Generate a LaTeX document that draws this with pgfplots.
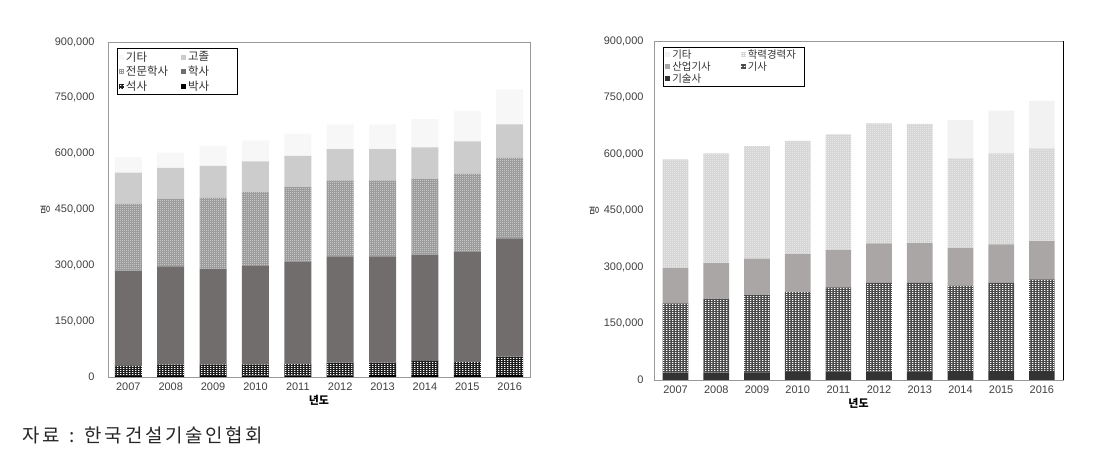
\documentclass[border=0pt]{standalone}
\usepackage{pgfplots}
\pgfplotsset{compat=1.18}
\usepackage{pgfplotstable}
\usetikzlibrary{patterns}
\usepackage{fontspec}
\setmainfont{Liberation Sans}
\newfontfamily\kr{Noto Sans CJK KR}
\newfontfamily\krs{Noto Sans CJK KR}[LetterSpace=14]

\pgfdeclarepatternformonly{mydots}{\pgfpointorigin}{\pgfpoint{2.2bp}{2.2bp}}{\pgfpoint{2.2bp}{2.2bp}}{%
  \pgfpathrectangle{\pgfpointorigin}{\pgfpoint{1bp}{1bp}}\pgfusepath{fill}}
\pgfdeclarepatternformonly{mydash}{\pgfpointorigin}{\pgfpoint{3bp}{2.4bp}}{\pgfpoint{3bp}{2.4bp}}{%
  \pgfpathrectangle{\pgfpointorigin}{\pgfpoint{1.7bp}{1bp}}\pgfusepath{fill}}

\definecolor{gita}{HTML}{F7F7F7}
\definecolor{gojol}{HTML}{CCCCCC}
\definecolor{jeonmun}{HTML}{9C9C9C}
\definecolor{haksa}{HTML}{716D6D}
\definecolor{seoksa}{HTML}{1E1E1E}
\definecolor{baksa}{HTML}{000000}
\definecolor{rgita}{HTML}{F2F2F2}
\definecolor{rhak}{HTML}{D6D6D6}
\definecolor{rsan}{HTML}{ABA6A6}
\definecolor{rgisa}{HTML}{4A4A4A}
\definecolor{rgisul}{HTML}{333333}

% left: segments (bottom to top)
\pgfplotstableread{
x baksa seoksa haksa jeonmun gojol gita
0 2500 27100 256000 180400 83000 42000
1 3000 31000 263000 182000 83000 41000
2 3000 31000 256000 192000 85000 53600
3 3500 30500 266000 197000 82000 57000
4 4000 32000 274800 199200 84000 60000
5 4500 34000 285500 204000 84000 67000
6 4800 33700 285500 204000 84000 67000
7 5200 37800 285700 204300 84000 75500
8 5500 35500 296700 208300 87000 82000
9 6000 49000 317700 216300 90000 94000
}\lefttable

% right: segments (bottom to top)
\pgfplotstableread{
x gisul gisa sanup hak gita
0 19500 184100 93400 289000 0
1 19500 196500 94000 292000 0
2 20000 206500 95500 299000 0
3 21000 212600 100900 300500 0
4 22000 224000 99000 307000 0
5 23000 235000 105000 318000 0
6 23000 235000 105700 316300 0
7 23500 226100 100400 238600 101400
8 23500 234500 102000 242000 113000
9 24000 243000 102000 246000 126000
}\righttable

\pgfplotsset{
  common/.style={
    scale only axis,
    anchor=south west,
    ybar stacked,
    ymin=0, ymax=900000,
    xtick={0,1,2,3,4,5,6,7,8,9},
    xticklabels={2007,2008,2009,2010,2011,2012,2013,2014,2015,2016},
    ytick={0,150000,300000,450000,600000,750000,900000},
    scaled y ticks=false,
    yticklabel style={/pgf/number format/fixed, /pgf/number format/1000 sep={,}},
    /pgf/number format/assume math mode=true,
    major tick length=0pt,
    axis line style={draw=black!40},
    tick label style={font=\fontsize{11}{12}\selectfont, text=black!75},
    xticklabel style={yshift=-2bp},
    ylabel={\kr 명},
    ylabel style={font=\kr\fontsize{10.5}{11}\selectfont, text=black!80, yshift=-2bp},
    xlabel={\kr\bfseries 년도},
    xlabel style={font=\kr\fontsize{11}{12}\selectfont\bfseries, yshift=2bp},
    legend columns=2,
    reverse legend,
    legend cell align=left,
    legend image code/.code={\path[##1, draw=none] (0bp,-2.5bp) rectangle (5bp,2.5bp);},
    clip=false,
  }
}

\begin{document}
\begin{tikzpicture}
\path[use as bounding box] (0,0) rectangle (1094bp,451bp);

\begin{axis}[common,
  at={(108bp,74bp)}, width=422bp, height=335bp,
  bar width=27bp, xmin=-0.48, xmax=9.48,
  yticklabel style={xshift=-10bp},
  legend style={at={(axis description cs:0.0206,0.981)}, anchor=north west,
    draw=black, line width=0.6bp, fill=white,
    font=\kr\fontsize{11.5}{12}\selectfont, text=black!80,
    inner xsep=2bp, inner ysep=1bp, row sep=-0.5bp,
    /tikz/every even column/.append style={column sep=11bp}},
]
\addplot[fill=baksa, draw=none] table[x=x, y=baksa] {\lefttable};
\addlegendentry{박사\hspace*{24bp}}
\addplot[fill=seoksa, draw=none, postaction={pattern=mydash, pattern color=white}] table[x=x, y=seoksa] {\lefttable};
\addlegendentry{석사}
\addplot[fill=haksa, draw=none] table[x=x, y=haksa] {\lefttable};
\addlegendentry{학사\hspace*{24bp}}
\addplot[fill=jeonmun, draw=none, postaction={pattern=mydots, pattern color=white}] table[x=x, y=jeonmun] {\lefttable};
\addlegendentry{전문학사}
\addplot[fill=gojol, draw=none] table[x=x, y=gojol] {\lefttable};
\addlegendentry{고졸\hspace*{24bp}}
\addplot[fill=gita, draw=none] table[x=x, y=gita] {\lefttable};
\addlegendentry{기타}
\end{axis}

\begin{axis}[common,
  at={(654bp,71bp)}, width=409bp, height=339bp,
  bar width=25.7bp, xmin=-0.53, xmax=9.52,
  yticklabel style={xshift=-7bp},
  legend style={at={(axis description cs:0.022,0.983)}, anchor=north west,
    draw=black, line width=0.6bp, fill=white,
    font=\kr\fontsize{10.5}{10}\selectfont, text=black!80,
    inner xsep=2bp, inner ysep=0.5bp, row sep=-2bp,
    /tikz/every even column/.append style={column sep=28bp}},
]
\addplot[fill=rgisul, draw=none] table[x=x, y=gisul] {\righttable};
\addlegendentry{기술사}
\addplot[fill=rgisa, draw=none, postaction={pattern=mydash, pattern color=white}] table[x=x, y=gisa] {\righttable};
\addlegendentry{기사}
\addplot[fill=rsan, draw=none] table[x=x, y=sanup] {\righttable};
\addlegendentry{산업기사}
\addplot[fill=rhak, draw=none, postaction={pattern=mydots, pattern color=white}] table[x=x, y=hak] {\righttable};
\addlegendentry{학력경력자\hspace*{4bp}}
\addplot[fill=rgita, draw=none] table[x=x, y=gita] {\righttable};
\addlegendentry{기타}
\draw[black, line width=0.8bp] (rel axis cs:1,0) -- (rel axis cs:1,1);
\end{axis}

\node[anchor=base west, font=\krs\fontsize{19}{19}\selectfont, text=black!85, inner sep=0pt] at (22bp,9bp) {자료\hspace{10bp}:\hspace{10bp}한국건설기술인협회};
\end{tikzpicture}
\end{document}
